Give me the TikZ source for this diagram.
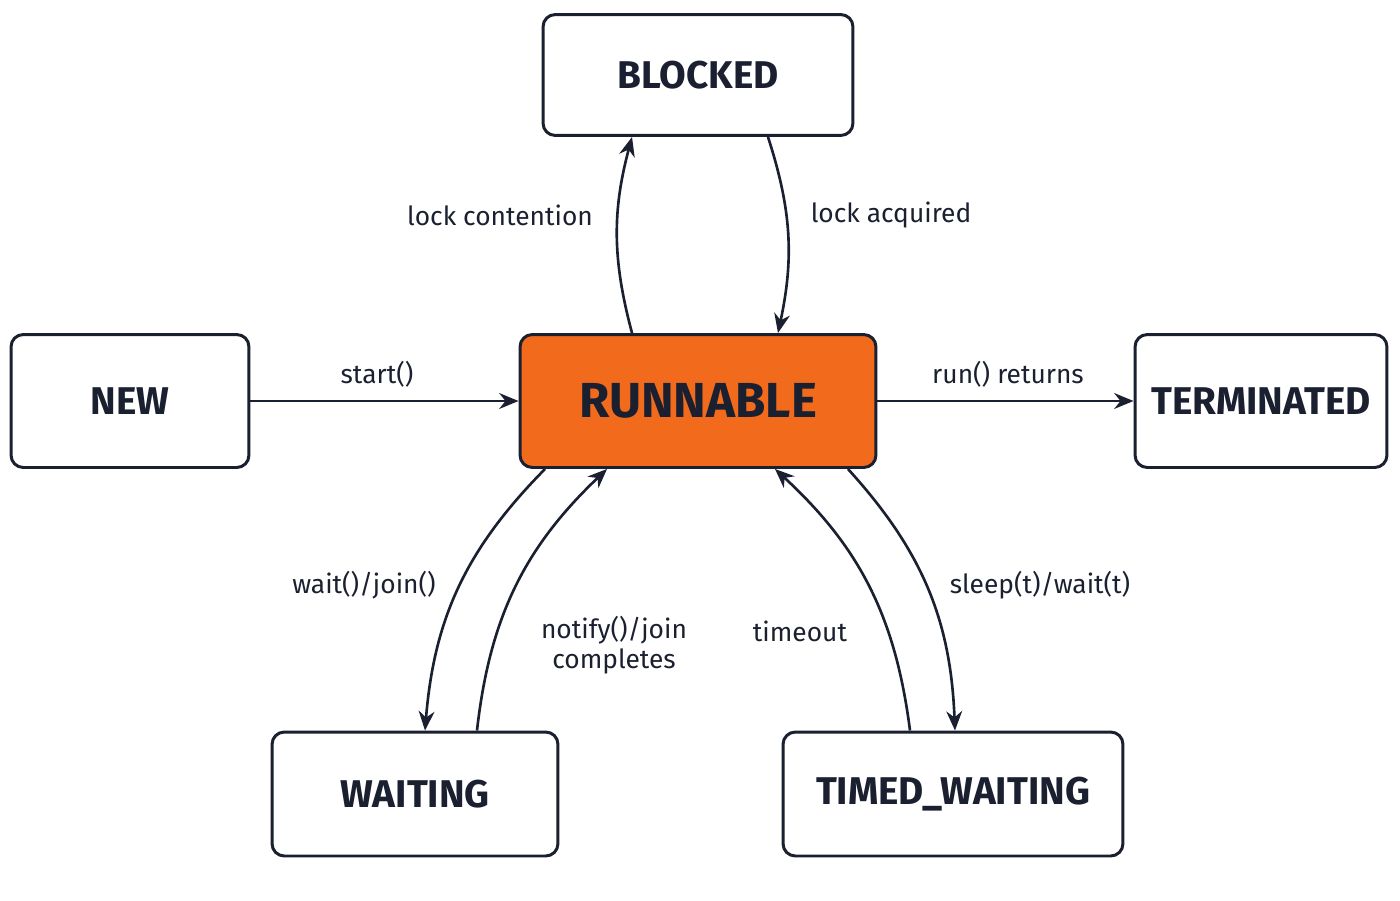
\documentclass[tikz,border=0pt]{standalone}
\usepackage{fontspec}
\setmainfont{Fira Sans}
\usetikzlibrary{arrows.meta}
\definecolor{ink}{HTML}{1A2030}
\definecolor{runorange}{HTML}{F26B1D}
\tikzset{
  state/.style={draw=ink,line width=1.7pt,rounded corners=7pt,fill=white,
    font=\bfseries\fontsize{22}{24}\selectfont,text=ink,inner sep=0pt},
  trans/.style={draw=ink,line width=1.5pt,-{Stealth[length=11pt,width=9pt]}},
  lbl/.style={font=\fontsize{15}{17}\selectfont,text=ink,align=center}
}
\begin{document}
\begin{tikzpicture}[x=0.02cm,y=-0.02cm]
\useasboundingbox (0,0) rectangle (1400,900);

\node[state,minimum width=6.2cm,minimum height=2.42cm] (blocked) at (698,75) {BLOCKED};
\node[state,minimum width=4.76cm,minimum height=2.66cm] (new) at (130,401) {NEW};
\node[state,fill=runorange,minimum width=7.12cm,minimum height=2.66cm,
  font=\bfseries\fontsize{28}{30}\selectfont] (run) at (698,401) {RUNNABLE};
\node[state,minimum width=5.04cm,minimum height=2.66cm] (term) at (1261,401) {TERMINATED};
\node[state,minimum width=5.72cm,minimum height=2.48cm] (wait) at (415,794) {WAITING};
\node[state,minimum width=6.8cm,minimum height=2.48cm] (timed) at (953,794) {TIMED\_WAITING};

\draw[trans] (new) -- (run);
\draw[trans] (run) -- (term);
\draw[trans] ([xshift=-1.32cm]run.north) to[bend left=15] ([xshift=-1.32cm]blocked.south);
\draw[trans] ([xshift=1.4cm]blocked.south) to[bend left=15] ([xshift=1.6cm]run.north);
\draw[trans] ([xshift=-3.06cm]run.south) to[bend right=20] ([xshift=0.2cm]wait.north);
\draw[trans] ([xshift=1.24cm]wait.north) to[bend left=20] ([xshift=-1.82cm]run.south);
\draw[trans] ([xshift=-0.86cm]timed.north) to[bend right=20] ([xshift=1.54cm]run.south);
\draw[trans] ([xshift=3cm]run.south) to[bend left=20] ([xshift=0.04cm]timed.north);

\node[lbl] (l1) at (377,374) {start()};
\node[lbl] (l2) at (1008,374) {run() returns};
\node[lbl] (l3) at (500,215) {lock contention};
\node[lbl] (l4) at (891,215) {lock acquired};
\node[lbl] (l5) at (364,585) {wait()/join()};
\node[lbl] (l6) at (614,645) {notify()/join\\completes};
\node[lbl] (l7) at (800,631) {timeout};
\node[lbl] (l8) at (1040,585) {sleep(t)/wait(t)};
\end{tikzpicture}
\end{document}
